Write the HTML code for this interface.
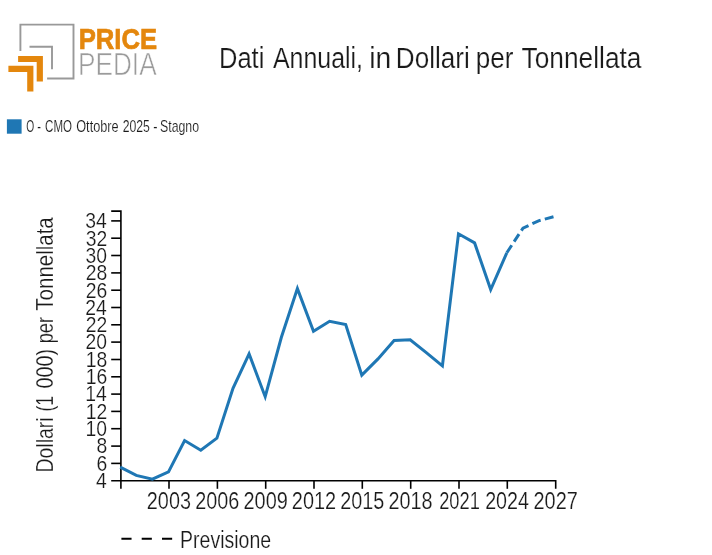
<!DOCTYPE html>
<html lang="it"><head><meta charset="utf-8"><title>PricePedia - Stagno</title>
<style>
html,body{margin:0;padding:0;background:#fff;}
body{width:712px;height:555px;overflow:hidden;font-family:"Liberation Sans",sans-serif;}
svg{display:block;}
text{font-family:"Liberation Sans",sans-serif;}
</style></head><body>
<svg width="712" height="555" viewBox="0 0 712 555">
<rect width="712" height="555" fill="#fff"/>
<g id="logo">
<path d="M20.4,51 V24.6 H73.5 V78.5 H47.1" fill="none" stroke="#999" stroke-width="1.9"/>
<path d="M29.5,46.8 H52 V69.3" fill="none" stroke="#999" stroke-width="1.9"/>
<path d="M18.1,56 H42.9 V81.6 H36.7 V62.1 H18.1 Z" fill="#e4870d"/>
<path d="M8.4,65.8 H33.4 V91.5 H27.2 V71.9 H8.4 Z" fill="#e4870d"/>
<text x="78.69" y="49.0" font-size="30.0" font-weight="bold" fill="#e4870d" stroke="#e4870d" stroke-width="0.7" textLength="78.43" lengthAdjust="spacingAndGlyphs">PRICE</text>
<text x="77.95" y="75.3" font-size="30.5" fill="#9b9b9b" stroke="#fff" stroke-width="0.6" textLength="78.68" lengthAdjust="spacingAndGlyphs">PEDIA</text>
</g>
<g id="title">
<text y="67.75" font-size="30.2" fill="#1a1a1a" stroke="#fff" stroke-width="0.2"><tspan x="219.09" textLength="45.24" lengthAdjust="spacingAndGlyphs">Dati</tspan> <tspan x="272.90" textLength="90.14" lengthAdjust="spacingAndGlyphs">Annuali,</tspan> <tspan x="369.22" textLength="22.05" lengthAdjust="spacingAndGlyphs">in</tspan> <tspan x="395.84" textLength="73.94" lengthAdjust="spacingAndGlyphs">Dollari</tspan> <tspan x="475.87" textLength="37.66" lengthAdjust="spacingAndGlyphs">per</tspan> <tspan x="521.55" textLength="119.96" lengthAdjust="spacingAndGlyphs">Tonnellata</tspan></text>
</g>
<g id="legend">
<rect x="6.9" y="119.3" width="14.7" height="14.4" fill="#1f77b4"/>
<text y="132.1" font-size="16.6" fill="#1a1a1a" stroke="#fff" stroke-width="0.15"><tspan x="26.14" textLength="7.98" lengthAdjust="spacingAndGlyphs">O</tspan> <tspan x="37.29" textLength="3.73" lengthAdjust="spacingAndGlyphs">-</tspan> <tspan x="45.08" textLength="26.92" lengthAdjust="spacingAndGlyphs">CMO</tspan> <tspan x="76.22" textLength="42.43" lengthAdjust="spacingAndGlyphs">Ottobre</tspan> <tspan x="122.65" textLength="27.25" lengthAdjust="spacingAndGlyphs">2025</tspan> <tspan x="153.22" textLength="4.29" lengthAdjust="spacingAndGlyphs">-</tspan> <tspan x="160.04" textLength="39.00" lengthAdjust="spacingAndGlyphs">Stagno</tspan></text>
</g>
<g id="axes" stroke="#000" stroke-width="1.6" fill="none">
<path d="M111.2,211.1 H120.9 V488.8"/>
<path d="M111.2,480.7 H555.7 V488.8"/>
<path d="M111.2,463.4 H120.9"/>
<path d="M111.2,446.1 H120.9"/>
<path d="M111.2,428.7 H120.9"/>
<path d="M111.2,411.4 H120.9"/>
<path d="M111.2,394.1 H120.9"/>
<path d="M111.2,376.8 H120.9"/>
<path d="M111.2,359.5 H120.9"/>
<path d="M111.2,342.1 H120.9"/>
<path d="M111.2,324.8 H120.9"/>
<path d="M111.2,307.5 H120.9"/>
<path d="M111.2,290.2 H120.9"/>
<path d="M111.2,272.9 H120.9"/>
<path d="M111.2,255.5 H120.9"/>
<path d="M111.2,238.2 H120.9"/>
<path d="M111.2,220.9 H120.9"/>
<path d="M169.0,480.7 V488.8"/>
<path d="M217.4,480.7 V488.8"/>
<path d="M265.7,480.7 V488.8"/>
<path d="M314.0,480.7 V488.8"/>
<path d="M362.3,480.7 V488.8"/>
<path d="M410.7,480.7 V488.8"/>
<path d="M459.0,480.7 V488.8"/>
<path d="M507.3,480.7 V488.8"/>
</g>
<g id="ylabels">
<text x="96.09" y="488.0" font-size="22.5" fill="#1a1a1a" stroke="#fff" stroke-width="0.2" textLength="10.75" lengthAdjust="spacingAndGlyphs">4</text>
<text x="96.52" y="470.7" font-size="22.5" fill="#1a1a1a" stroke="#fff" stroke-width="0.2" textLength="10.75" lengthAdjust="spacingAndGlyphs">6</text>
<text x="96.52" y="453.4" font-size="22.5" fill="#1a1a1a" stroke="#fff" stroke-width="0.2" textLength="10.75" lengthAdjust="spacingAndGlyphs">8</text>
<text x="85.57" y="436.0" font-size="22.5" fill="#1a1a1a" stroke="#fff" stroke-width="0.2" textLength="21.50" lengthAdjust="spacingAndGlyphs">10</text>
<text x="85.79" y="418.7" font-size="22.5" fill="#1a1a1a" stroke="#fff" stroke-width="0.2" textLength="21.50" lengthAdjust="spacingAndGlyphs">12</text>
<text x="85.36" y="401.4" font-size="22.5" fill="#1a1a1a" stroke="#fff" stroke-width="0.2" textLength="21.50" lengthAdjust="spacingAndGlyphs">14</text>
<text x="85.79" y="384.1" font-size="22.5" fill="#1a1a1a" stroke="#fff" stroke-width="0.2" textLength="21.50" lengthAdjust="spacingAndGlyphs">16</text>
<text x="85.79" y="366.8" font-size="22.5" fill="#1a1a1a" stroke="#fff" stroke-width="0.2" textLength="21.50" lengthAdjust="spacingAndGlyphs">18</text>
<text x="85.57" y="349.4" font-size="22.5" fill="#1a1a1a" stroke="#fff" stroke-width="0.2" textLength="21.50" lengthAdjust="spacingAndGlyphs">20</text>
<text x="85.79" y="332.1" font-size="22.5" fill="#1a1a1a" stroke="#fff" stroke-width="0.2" textLength="21.50" lengthAdjust="spacingAndGlyphs">22</text>
<text x="85.36" y="314.8" font-size="22.5" fill="#1a1a1a" stroke="#fff" stroke-width="0.2" textLength="21.50" lengthAdjust="spacingAndGlyphs">24</text>
<text x="85.79" y="297.5" font-size="22.5" fill="#1a1a1a" stroke="#fff" stroke-width="0.2" textLength="21.50" lengthAdjust="spacingAndGlyphs">26</text>
<text x="85.79" y="280.2" font-size="22.5" fill="#1a1a1a" stroke="#fff" stroke-width="0.2" textLength="21.50" lengthAdjust="spacingAndGlyphs">28</text>
<text x="85.57" y="262.8" font-size="22.5" fill="#1a1a1a" stroke="#fff" stroke-width="0.2" textLength="21.50" lengthAdjust="spacingAndGlyphs">30</text>
<text x="85.79" y="245.5" font-size="22.5" fill="#1a1a1a" stroke="#fff" stroke-width="0.2" textLength="21.50" lengthAdjust="spacingAndGlyphs">32</text>
<text x="85.36" y="228.2" font-size="22.5" fill="#1a1a1a" stroke="#fff" stroke-width="0.2" textLength="21.50" lengthAdjust="spacingAndGlyphs">34</text>
</g>
<g id="xlabels">
<text x="146.85" y="509.1" font-size="23.0" fill="#1a1a1a" stroke="#fff" stroke-width="0.2" textLength="44.07" lengthAdjust="spacingAndGlyphs">2003</text>
<text x="195.18" y="509.1" font-size="23.0" fill="#1a1a1a" stroke="#fff" stroke-width="0.2" textLength="44.07" lengthAdjust="spacingAndGlyphs">2006</text>
<text x="243.51" y="509.1" font-size="23.0" fill="#1a1a1a" stroke="#fff" stroke-width="0.2" textLength="44.30" lengthAdjust="spacingAndGlyphs">2009</text>
<text x="291.84" y="509.1" font-size="23.0" fill="#1a1a1a" stroke="#fff" stroke-width="0.2" textLength="44.30" lengthAdjust="spacingAndGlyphs">2012</text>
<text x="340.17" y="509.1" font-size="23.0" fill="#1a1a1a" stroke="#fff" stroke-width="0.2" textLength="44.07" lengthAdjust="spacingAndGlyphs">2015</text>
<text x="388.50" y="509.1" font-size="23.0" fill="#1a1a1a" stroke="#fff" stroke-width="0.2" textLength="44.07" lengthAdjust="spacingAndGlyphs">2018</text>
<text x="439.21" y="509.1" font-size="23.0" fill="#1a1a1a" stroke="#fff" stroke-width="0.2" textLength="40.62" lengthAdjust="spacingAndGlyphs">2021</text>
<text x="485.17" y="509.1" font-size="23.0" fill="#1a1a1a" stroke="#fff" stroke-width="0.2" textLength="43.85" lengthAdjust="spacingAndGlyphs">2024</text>
<text x="533.49" y="509.1" font-size="23.0" fill="#1a1a1a" stroke="#fff" stroke-width="0.2" textLength="44.30" lengthAdjust="spacingAndGlyphs">2027</text>
</g>
<g id="ytitle" transform="translate(53.2,0) rotate(-90)">
<text y="0" font-size="23.8" fill="#1a1a1a" stroke="#fff" stroke-width="0.2"><tspan x="-472.54" textLength="55.23" lengthAdjust="spacingAndGlyphs">Dollari</tspan> <tspan x="-411.60" textLength="15.56" lengthAdjust="spacingAndGlyphs">(1</tspan> <tspan x="-388.43" textLength="39.48" lengthAdjust="spacingAndGlyphs">000)</tspan> <tspan x="-343.36" textLength="26.57" lengthAdjust="spacingAndGlyphs">per</tspan> <tspan x="-310.63" textLength="93.33" lengthAdjust="spacingAndGlyphs">Tonnellata</tspan></text>
</g>
<path d="M120.2,467.2 L136.3,475.4 L152.4,479.1 L168.5,471.9 L184.6,440.5 L200.8,450.3 L216.9,438.2 L233.0,388.4 L249.1,353.9 L265.2,396.7 L281.3,337.5 L297.4,288.6 L313.5,331.3 L329.6,321.3 L345.7,324.6 L361.8,375.1 L378.0,358.9 L394.1,340.5 L410.2,339.8 L426.3,352.6 L442.4,365.9 L458.5,233.8 L474.6,242.9 L490.7,289.6 L506.8,252.8" fill="none" stroke="#1f77b4" stroke-width="3" stroke-linejoin="miter"/>
<path d="M506.8,252.8 L523.0,228.1 L539.1,220.6 L555.2,216.3" fill="none" stroke="#1f77b4" stroke-width="3" stroke-dasharray="9 4.3"/>
<g id="prev">
<path d="M121.4,538.7 H172.2" stroke="#000" stroke-width="1.9" stroke-dasharray="10.15 10.15" fill="none"/>
<text x="180.12" y="547.7" font-size="23.0" fill="#1a1a1a" stroke="#fff" stroke-width="0.2" textLength="91.04" lengthAdjust="spacingAndGlyphs">Previsione</text>
</g>
</svg>
</body></html>
